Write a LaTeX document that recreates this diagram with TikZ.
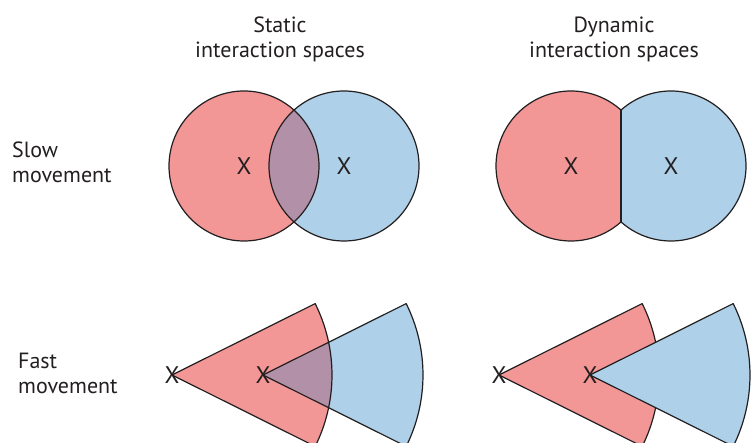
\documentclass[tikz,border=0pt]{standalone}
\usepackage{fontspec}
\setmainfont{PT Sans}
\definecolor{redfill}{RGB}{243,150,150}
\definecolor{bluefill}{RGB}{174,208,232}
\definecolor{mixfill}{RGB}{177,144,168}
\definecolor{edge}{RGB}{35,31,32}
\begin{document}
\begin{tikzpicture}[x=1pt,y=1pt,
  lab/.style={inner sep=0pt,font=\fontsize{22}{25}\selectfont,text=edge},
  xmark/.style={inner sep=0pt,font=\fontsize{24}{24}\selectfont,text=edge},
  outline/.style={draw=edge,line width=1.2pt,line join=round}]
\useasboundingbox (0,0) rectangle (754,443);
\clip (0,0) rectangle (754,443);
% headings
\node[lab,align=center,anchor=north] (hs) at (280,426) {Static\\interaction spaces};
\node[lab,align=center,anchor=north] (hd) at (614,426) {Dynamic\\interaction spaces};
\node[lab,align=left,anchor=north west] (ls) at (12,301) {Slow\\movement};
\node[lab,align=left,anchor=north west] (lf) at (18,90) {Fast\\movement};
% static circles
\fill[redfill] (244,277) circle (75);
\fill[bluefill] (344,277) circle (75);
\begin{scope}
  \clip (244,277) circle (75);
  \fill[mixfill] (344,277) circle (75);
\end{scope}
\draw[outline] (244,277) circle (75);
\draw[outline] (344,277) circle (75);
% dynamic circles
\begin{scope}
  \clip (0,150) rectangle (621,420);
  \fill[redfill] (571,277) circle (75);
  \draw[outline] (571,277) circle (75);
\end{scope}
\begin{scope}
  \clip (621,150) rectangle (754,420);
  \fill[bluefill] (671,277) circle (75);
  \draw[outline] (671,277) circle (75);
\end{scope}
\coordinate (dt) at (621,332.9);
\coordinate (db) at (621,221.1);
\draw[outline] (dt) -- (db);
% static sectors
\coordinate (sa) at (172,68);
\coordinate (sb) at (263,68);
\fill[redfill] (sa) -- ++(26.5:160) arc[start angle=26.5,end angle=-26.5,radius=160] -- cycle;
\fill[bluefill] (sb) -- ++(26.5:160) arc[start angle=26.5,end angle=-26.5,radius=160] -- cycle;
\begin{scope}
  \clip (sa) -- ++(26.5:160) arc[start angle=26.5,end angle=-26.5,radius=160] -- cycle;
  \fill[mixfill] (sb) -- ++(26.5:160) arc[start angle=26.5,end angle=-26.5,radius=160] -- cycle;
\end{scope}
\draw[outline] (sa) -- ++(26.5:160) arc[start angle=26.5,end angle=-26.5,radius=160] -- cycle;
\draw[outline] (sb) -- ++(26.5:160) arc[start angle=26.5,end angle=-26.5,radius=160] -- cycle;
% dynamic sectors
\coordinate (da) at (499,68);
\coordinate (dbb) at (590,68);
\filldraw[outline,fill=redfill] (da) -- ++(26.5:160) arc[start angle=26.5,end angle=-26.5,radius=160] -- cycle;
\filldraw[outline,fill=bluefill] (dbb) -- ++(26.5:160) arc[start angle=26.5,end angle=-26.5,radius=160] -- cycle;
% X marks
\node[xmark] (x1) at (244,277) {X};
\node[xmark] (x2) at (344,277) {X};
\node[xmark] (x3) at (571,277) {X};
\node[xmark] (x4) at (671,277) {X};
\node[xmark] (x5) at (sa) {X};
\node[xmark] (x6) at (sb) {X};
\node[xmark] (x7) at (da) {X};
\node[xmark] (x8) at (dbb) {X};
\end{tikzpicture}
\end{document}
